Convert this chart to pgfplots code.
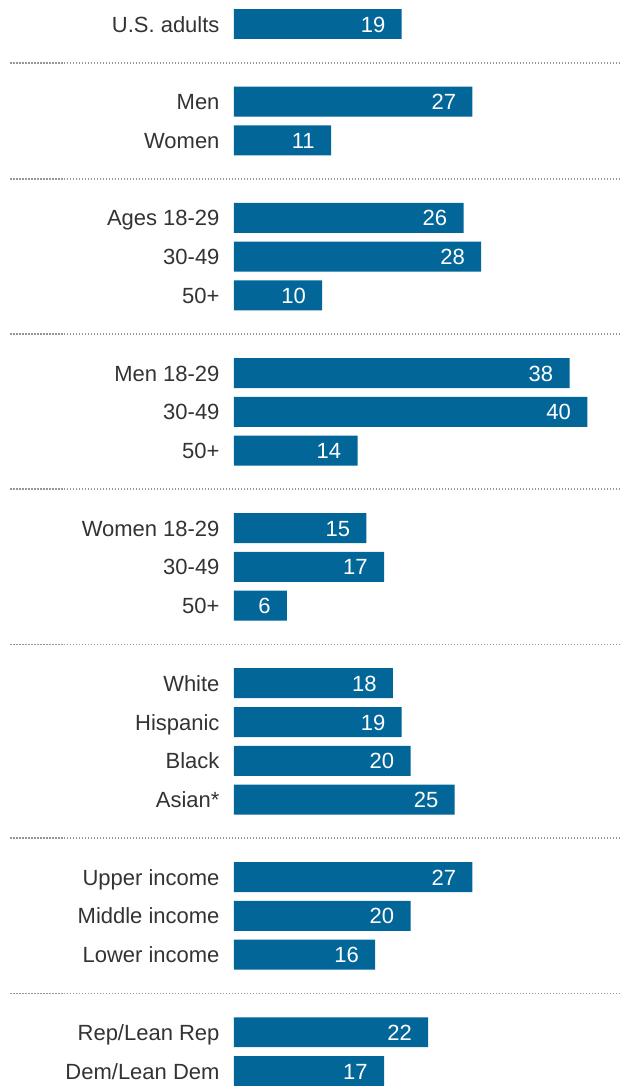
\documentclass[border=0pt]{standalone}
\usepackage{pgfplots}
\pgfplotsset{compat=1.18}
\usepackage{fontspec}
\setmainfont{Liberation Sans}
\definecolor{barblue}{RGB}{2,102,153}
\definecolor{txt}{RGB}{51,51,51}
\definecolor{sep}{RGB}{150,150,150}
\begin{document}
\begin{tikzpicture}
\begin{axis}[
  x=4.42pt, y=19.4pt,
  y dir=reverse,
  xmin=0, xmax=43.78,
  ymin=-0.619, ymax=27.37,
  clip=false,
  axis x line=none,
  axis y line*=left,
  y axis line style={draw=none},
  ytick style={draw=none},
  major tick length=0pt,
  ytick={0,2,3,5,6,7,9,10,11,13,14,15,17,18,19,20,22,23,24,26,27},
  yticklabels={U.S. adults,Men,Women,Ages 18-29,30-49,50+,Men 18-29,30-49,50+,Women 18-29,30-49,50+,White,Hispanic,Black,Asian*,Upper income,Middle income,Lower income,Rep/Lean Rep,Dem/Lean Dem},
  yticklabel style={anchor=base east, inner sep=0pt, xshift=-7pt, yshift=-4pt, font=\fontsize{11}{13}\selectfont, text=txt},
  xbar, bar width=15pt,
  /pgf/number format/assume math mode=true,
  nodes near coords={\pgfmathprintnumber{\pgfplotspointmeta}},
  point meta=x,
  every node near coord/.append style={anchor=base east, xshift=-8pt, yshift=-4pt, inner sep=0pt, text=white, font=\fontsize{11}{13}\selectfont},
]
\addplot[fill=barblue, draw=none] coordinates {
(19,0) (27,2) (11,3) (26,5) (28,6) (10,7) (38,9) (40,10) (14,11) (15,13) (17,14) (6,15) (18,17) (19,18) (20,19) (25,20) (27,22) (20,23) (16,24) (22,26) (17,27)
};
\pgfplotsinvokeforeach{1,4,8,12,16,21,25}{
  \draw[sep, line width=0.9pt, dash pattern=on 0.6pt off 0.9pt] (axis cs:-25.3,#1) -- (axis cs:43.78,#1);
}
\path (axis cs:-26.47,-0.619) rectangle (axis cs:43.78,27.37);
\end{axis}
\end{tikzpicture}
\end{document}
